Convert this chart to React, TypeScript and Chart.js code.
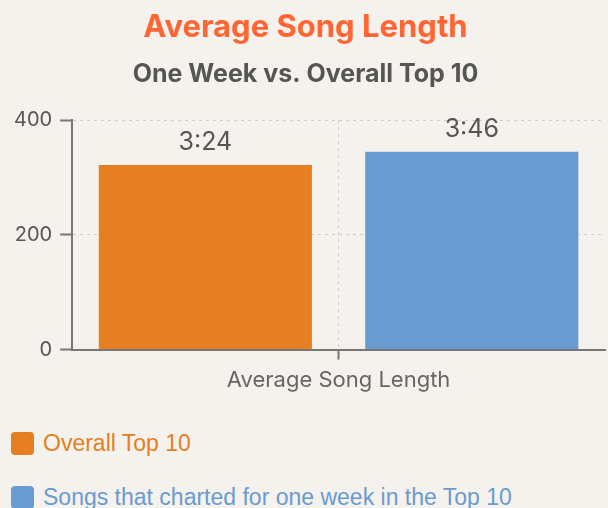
import React, { useEffect, useRef } from "react";
import { Chart, registerables } from "chart.js";

Chart.register(...registerables);

const categories = ["Average Song Length"];
const seriesNames = ["Overall Top 10", "Songs that charted for one week in the Top 10"];
const overallTop10 = [322];
const oneWeekTop10 = [345];
const overallLabels = ["3:24"];
const oneWeekLabels = ["3:46"];
const yTicks = [0, 200, 400];
const seriesColors = ["#E67F22", "#699BD0"];

const FONT = "Inter, Lato, 'DejaVu Sans', sans-serif";

const valueLabelPlugin = {
  id: "valueLabels",
  afterDatasetsDraw(chart: any) {
    const ctx = chart.ctx;
    ctx.save();
    ctx.font = `25px ${FONT}`;
    ctx.fillStyle = "#555555";
    ctx.textAlign = "center";
    ctx.textBaseline = "alphabetic";
    chart.data.datasets.forEach((ds: any, di: number) => {
      const meta = chart.getDatasetMeta(di);
      meta.data.forEach((el: any, i: number) => {
        const txt = ds.valueLabels ? ds.valueLabels[i] : "";
        ctx.fillText(txt, el.x, el.y - 15);
      });
    });
    ctx.restore();
  },
};

export default function App() {
  const ref = useRef<HTMLCanvasElement | null>(null);

  useEffect(() => {
    document.body.style.margin = "0";
    document.body.style.background = "#F5F2EE";
    const canvas = ref.current;
    if (!canvas) return;
    const chart = new Chart(canvas, {
      type: "bar",
      data: {
        labels: categories,
        datasets: [
          {
            label: seriesNames[0],
            data: overallTop10,
            backgroundColor: seriesColors[0],
            categoryPercentage: 1,
            barPercentage: 0.8,
            valueLabels: overallLabels,
          } as any,
          {
            label: seriesNames[1],
            data: oneWeekTop10,
            backgroundColor: seriesColors[1],
            categoryPercentage: 1,
            barPercentage: 0.8,
            valueLabels: oneWeekLabels,
          } as any,
        ],
      },
      options: {
        animation: false,
        responsive: false,
        events: [],
        layout: { padding: { left: 6, right: 3, top: 0, bottom: 3 } },
        plugins: {
          legend: { display: false },
          tooltip: { enabled: false },
          title: {
            display: true,
            text: "Average Song Length",
            color: "#FF6633",
            font: { family: FONT, size: 31, weight: "bold" },
            padding: { top: 9, bottom: 13 },
          },
          subtitle: {
            display: true,
            text: "One Week vs. Overall Top 10",
            color: "#555555",
            font: { family: FONT, size: 25, weight: "bold" },
            padding: { top: 0, bottom: 31 },
          },
        },
        scales: {
          x: {
            grid: {
              offset: false,
              color: "#CCCCCC",
              lineWidth: 1,
              tickColor: "#777777",
              tickLength: 10,
              tickWidth: 2,
            },
            border: { display: true, color: "#777777", width: 2, dash: [3, 4] },
            ticks: { color: "#666666", font: { family: FONT, size: 22 }, padding: 8 },
          },
          y: {
            min: yTicks[0],
            max: yTicks[yTicks.length - 1],
            ticks: {
              stepSize: yTicks[1] - yTicks[0],
              color: "#555555",
              font: { family: FONT, size: 20 },
              padding: 8,
            },
            grid: {
              color: "#CCCCCC",
              lineWidth: 1,
              tickColor: "#777777",
              tickLength: 12,
              tickWidth: 2,
            },
            border: { display: true, color: "#777777", width: 2, dash: [3, 4] },
          },
        },
      },
      plugins: [valueLabelPlugin],
    });
    return () => chart.destroy();
  }, []);

  return (
    <div style={{ width: 608, background: "#F5F2EE" }}>
      <canvas ref={ref} width={608} height={405} style={{ display: "block" }} />
      <div style={{ fontFamily: "'Liberation Sans', Arial, sans-serif", fontSize: 23 }}>
        {seriesNames.map((name, i) => (
          <div
            key={name}
            style={{
              display: "flex",
              alignItems: "center",
              height: 23,
              marginLeft: 11,
              marginTop: i === 0 ? 27 : 31,
            }}
          >
            <span
              style={{
                display: "inline-block",
                flex: "0 0 auto",
                width: 23,
                height: 23,
                borderRadius: 4,
                background: seriesColors[i],
                marginRight: 9,
              }}
            />
            <span style={{ color: seriesColors[i], whiteSpace: "nowrap" }}>{name}</span>
          </div>
        ))}
      </div>
    </div>
  );
}
